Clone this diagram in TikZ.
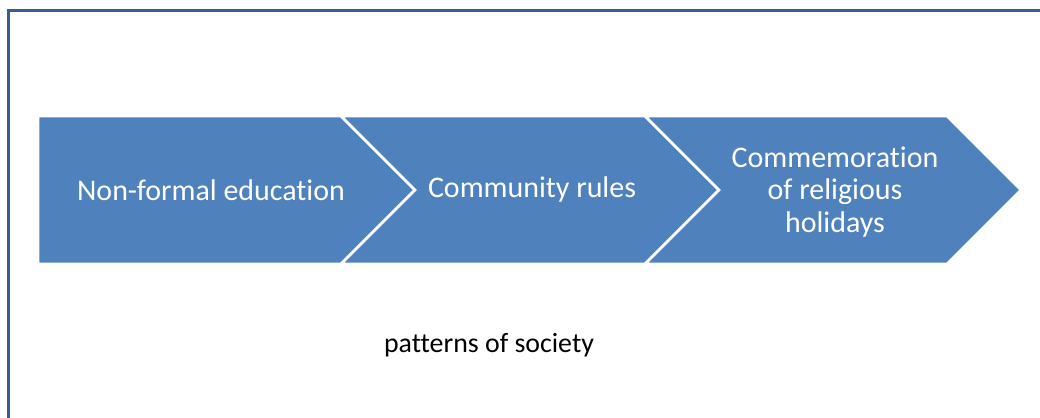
\documentclass[tikz,border=0pt]{standalone}
\usepackage{fontspec}
\setmainfont{Carlito}[Ligatures=NoCommon]
\definecolor{chevblue}{RGB}{79,129,189}
\definecolor{framebl}{RGB}{58,94,140}
\def\tip{74}
\def\top{116}
\def\bot{264}
\def\mid{190}
\tikzstyle{chevron}  = [fill=chevblue, draw=white, line width=1.8pt, line join=miter]
\tikzstyle{chevtext} = [text=white, font=\fontsize{21.3}{23.3}\selectfont, align=center, inner sep=0pt]

\begin{document}
\begin{tikzpicture}[x=0.025cm, y=-0.025cm]
		\clip (0,0) rectangle (1040,418);
		\draw[framebl, line width=2.4pt] (8.5,10.5) rectangle (1070,450);
		% the three steps
		\draw[chevron] (38,\top) -- (341,\top) -- (341+\tip,\mid) -- (341,\bot) -- (38,\bot) -- cycle;
		\foreach \x/\w in {341/304, 645/302}{
				\draw[chevron] (\x,\top) -- (\x+\w,\top) -- (\x+\w+\tip,\mid) -- (\x+\w,\bot) -- (\x,\bot) -- (\x+\tip,\mid) -- cycle;
			}
		\node[chevtext] (edu) at (211,\mid) {Non-formal education};
		\node[chevtext] (rules) at (532,\mid) {Community rules};
		\node[chevtext] (holidays) at (835,192) {Commemoration\\of religious\\holidays};
		\node[font=\fontsize{19.8}{22}\selectfont, inner sep=0pt] (patterns) at (489,345) {patterns of society};
	\end{tikzpicture}
\end{document}
